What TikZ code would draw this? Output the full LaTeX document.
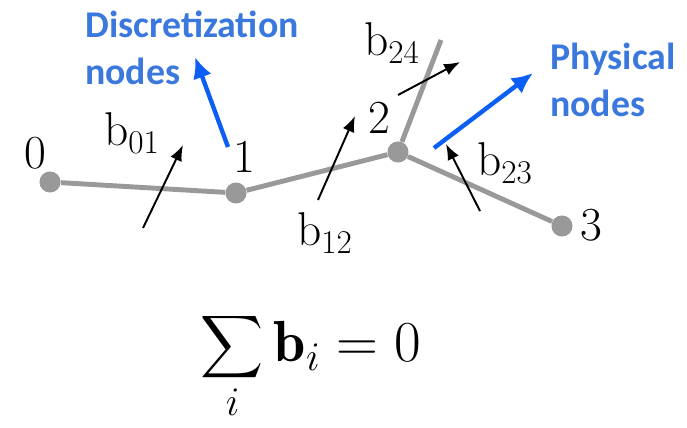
\RequirePackage{fix-cm}
\documentclass[tikz,border=0pt]{standalone}
\usepackage{amsmath}
\usepackage{fontspec}
\newfontfamily\calloutfont{Carlito}
\usetikzlibrary{arrows.meta}
\definecolor{branchgray}{HTML}{999999}
\definecolor{calloutblue}{HTML}{3B78DE}
\definecolor{arrowblue}{HTML}{0B5FF5}
\tikzset{
  branch/.style={branchgray, line width=2.8pt},
  physnode/.style={circle, fill=branchgray, inner sep=0pt, minimum size=12pt},
  numlabel/.style={inner sep=0pt, font=\fontsize{27}{30}\selectfont},
  flux/.style={-{Latex[length=9pt,width=7pt]}, line width=1.1pt},
  callout/.style={-{Latex[length=12pt,width=11pt]}, arrowblue, line width=2.5pt},
  callouttext/.style={calloutblue, inner sep=0pt, align=left,
    font=\calloutfont\bfseries\fontsize{21.5}{26.6}\selectfont}
}

\begin{document}
\begin{tikzpicture}[x=0.02cm, y=-0.02cm]
\useasboundingbox (0,0) rectangle (687,427);

% Branch with its physical nodes
\node[physnode] (n0) at (50,182) {};
\node[physnode] (n1) at (236,193) {};
\node[physnode] (n2) at (398,152) {};
\node[physnode] (n3) at (562,226) {};
\coordinate (n4) at (441,40);
\draw[branch] (n0) -- (n1) -- (n2) -- (n3);
\draw[branch] (n2) -- (n4);

% Discretization node numbers
\node[numlabel] (l0) at (35,153) {0};
\node[numlabel] (l1) at (244,157) {1};
\node[numlabel] (l2) at (379,118) {2};
\node[numlabel] (l3) at (591,225) {3};

% Boundary fluxes
\coordinate (b01s) at (143,228);
\coordinate (b01e) at (183,145);
\draw[flux] (b01s) -- (b01e);
\node[numlabel] (b01) at (132,133) {$\mathrm{b}_{01}$};

\coordinate (b12s) at (318,200);
\coordinate (b12e) at (355,116);
\draw[flux] (b12s) -- (b12e);
\node[numlabel] (b12) at (325,233) {$\mathrm{b}_{12}$};

\coordinate (b24s) at (398,95);
\coordinate (b24e) at (460,62);
\draw[flux] (b24s) -- (b24e);
\node[numlabel] (b24) at (392,43) {$\mathrm{b}_{24}$};

\coordinate (b23s) at (480,211);
\coordinate (b23e) at (446,144);
\draw[flux] (b23s) -- (b23e);
\node[numlabel] (b23) at (505,163) {$\mathrm{b}_{23}$};

% Callouts
\node[callouttext, anchor=north west] (disc) at (85,11) {Discretization\\nodes};
\coordinate (discfoot) at (228,147);
\coordinate (disctip) at (195,57);
\draw[callout] (discfoot) -- (disctip);

\node[callouttext, anchor=north west] (phys) at (550,43) {Physical\\nodes};
\coordinate (physfoot) at (434,148);
\coordinate (phystip) at (533,73);
\draw[callout] (physfoot) -- (phystip);

% Balance
\node[inner sep=0pt, font=\fontsize{33}{36}\selectfont] (balance) at (311,366)
  {$\displaystyle\sum_i \mathbf{b}_i = 0$};

\end{tikzpicture}
\end{document}
